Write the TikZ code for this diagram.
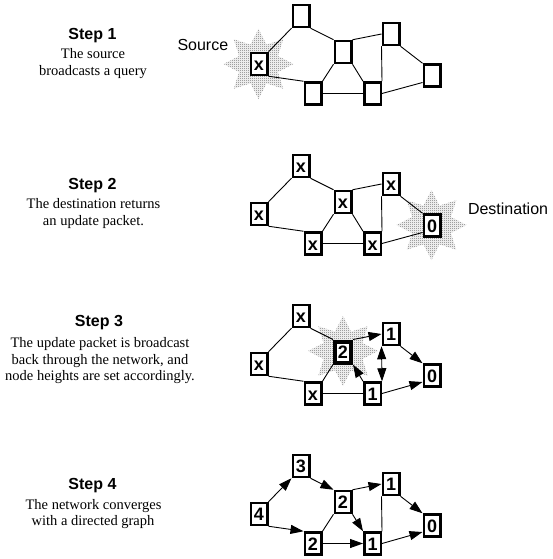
\documentclass[tikz,border=0pt]{standalone}
\usepackage{fontspec}
\setmainfont{Liberation Serif}
\setsansfont{Liberation Sans}
\usetikzlibrary{arrows.meta,patterns,calc}
\pgfdeclarepatternformonly{stip}{\pgfqpoint{0pt}{0pt}}{\pgfqpoint{2pt}{2pt}}{\pgfqpoint{2pt}{2pt}}{\pgfpathrectangle{\pgfqpoint{0pt}{0pt}}{\pgfqpoint{1pt}{1pt}}\pgfpathrectangle{\pgfqpoint{1pt}{1pt}}{\pgfqpoint{1pt}{1pt}}\pgfusepath{fill}}
\newcommand\starburst[1]{\fill[burst] ($(#1)+(0:35)$) \foreach \a in {0,45,...,315}{ -- ($(#1)+(\a+22.5:21)$) -- ($(#1)+(\a+45:35)$)} -- cycle;}
\begin{document}
\begin{tikzpicture}[x=1pt,y=-1pt,
 box/.style={draw,line width=2.5pt,fill=white,minimum width=16.5pt,minimum height=22pt,inner sep=0pt,text height=13.6pt,text depth=0pt,font=\fontsize{18}{18}\sffamily\bfseries},
 hbox/.style={box,line width=4pt,minimum width=16pt,minimum height=21pt},
 link/.style={line width=0.9pt},
 arr/.style={link,-{Triangle[length=13pt,width=9pt]}},
 darr/.style={link,{Triangle[length=13pt,width=9pt]}-{Triangle[length=13pt,width=9pt]}},
 steptitle/.style={anchor=base,font=\fontsize{16}{16}\sffamily\bfseries},
 desc/.style={anchor=base,font=\fontsize{14.5}{17}\selectfont},
 lbl/.style={anchor=base west,font=\fontsize{16}{16}\sffamily},
 burst/.style={pattern=stip,pattern color=black!58}
]
\useasboundingbox (0,0) rectangle (552,559);

% ---------- texts ----------
\node[steptitle] (t1) at (92.5,39.3) {Step 1};
\node[desc] (t1a) at (93,59) {The source};
\node[desc] (t1b) at (93,75.7) {broadcasts a query};

\node[steptitle] (t2) at (92.5,189.3) {Step 2};
\node[desc] (t2a) at (93.5,208.3) {The destination returns};
\node[desc] (t2b) at (93.5,225) {an update packet.};

\node[steptitle] (t3) at (99,326.7) {Step 3};
\node[desc] (t3a) at (100,347.3) {The update packet is broadcast};
\node[desc] (t3b) at (100,364) {back through the network, and};
\node[desc] (t3c) at (100,380.7) {node heights are set accordingly.};

\node[steptitle] (t4) at (92.5,489.3) {Step 4};
\node[desc] (t4a) at (93.5,509.3) {The network converges};
\node[desc] (t4b) at (93,525) {with a directed graph};

% ---------- bursts ----------
\starburst{258.5,64}
\starburst{431.5,225}
\starburst{343,351}

\node[lbl] (src) at (174,51) {Source};
\node[lbl] (dst) at (464.5,214) {Destination};

% ---------- step 1 ----------
\node[box] (a1) at (259,64) {x};
\node[box] (b1) at (301,16) {};
\node[box] (c1) at (343,52) {};
\node[box] (d1) at (391,34) {};
\node[box] (e1) at (432,75.5) {};
\node[box] (f1) at (313,93.5) {};
\node[box] (g1) at (372.5,93.5) {};
\draw[link] (a1.north east) -- (b1.south west);
\draw[link] (a1.south east) -- (f1.north west);
\draw[link] (b1.south east) -- (c1.north west);
\draw[link] (c1.north east) -- (d1.west);
\draw[link] (c1.south west) -- (f1.north east);
\draw[link] (c1.south east) -- (g1.north west);
\draw[link] (f1.east) -- (g1.west);
\draw[link] (d1.south west) -- (g1.north east);
\draw[link] (d1.south east) -- (e1.north west);
\draw[link] (g1.east) -- ([yshift=-7pt]e1.west);

% ---------- step 2 ----------
\node[box] (a2) at (259,214) {x};
\node[box] (b2) at (301,166) {x};
\node[box] (c2) at (343,202) {x};
\node[box] (d2) at (391,184) {x};
\node[box] (e2) at (432,225.5) {0};
\node[box] (f2) at (313,243.5) {x};
\node[box] (g2) at (372.5,243.5) {x};
\draw[link] (a2.north east) -- (b2.south west);
\draw[link] (a2.south east) -- (f2.north west);
\draw[link] (b2.south east) -- (c2.north west);
\draw[link] (c2.north east) -- (d2.west);
\draw[link] (c2.south west) -- (f2.north east);
\draw[link] (c2.south east) -- (g2.north west);
\draw[link] (f2.east) -- (g2.west);
\draw[link] (d2.south west) -- (g2.north east);
\draw[link] (d2.south east) -- (e2.north west);
\draw[link] (g2.east) -- ([yshift=-7pt]e2.west);

% ---------- step 3 ----------
\node[box] (a3) at (259,364) {x};
\node[box] (b3) at (301,316) {x};
\node[hbox] (c3) at (343,352) {2};
\node[box] (d3) at (391,334) {1};
\node[box] (e3) at (432,375.5) {0};
\node[box] (f3) at (313,393.5) {x};
\node[box] (g3) at (372.5,393.5) {1};
\draw[link] (b3.south west) -- (a3.north east);
\draw[link] (b3.south east) -- (c3.north west);
\draw[link] (a3.south east) -- (f3.north west);
\draw[link] (f3.north east) -- (c3.south west);
\draw[link] (f3.east) -- (g3.west);
\draw[arr] (c3.north east) -- (d3.west);
\draw[arr] (g3.north west) -- (c3.south east);
\draw[darr] (d3.south west) -- (g3.north east);
\draw[arr] (d3.south east) -- (e3.north west);
\draw[arr] (g3.east) -- ([yshift=-6.5pt]e3.west);

% ---------- step 4 ----------
\node[box] (a4) at (259,514) {4};
\node[box] (b4) at (301,466) {3};
\node[box] (c4) at (343,502) {2};
\node[box] (d4) at (391,484) {1};
\node[box] (e4) at (432,525.5) {0};
\node[box] (f4) at (313,543.5) {2};
\node[box] (g4) at (372.5,543.5) {1};
\draw[arr] (a4.north east) -- (b4.south west);
\draw[arr] (a4.south east) -- (f4.north west);
\draw[arr] (b4.south east) -- (c4.north west);
\draw[arr] (c4.north east) -- (d4.west);
\draw[arr] (c4.south east) -- (g4.north west);
\draw[link] (f4.north east) -- (c4.south west);
\draw[arr] (f4.east) -- (g4.west);
\draw[link] (d4.south west) -- (g4.north east);
\draw[arr] (d4.south east) -- (e4.north west);
\draw[arr] (g4.east) -- ([yshift=-6.5pt]e4.west);
\end{tikzpicture}
\end{document}
